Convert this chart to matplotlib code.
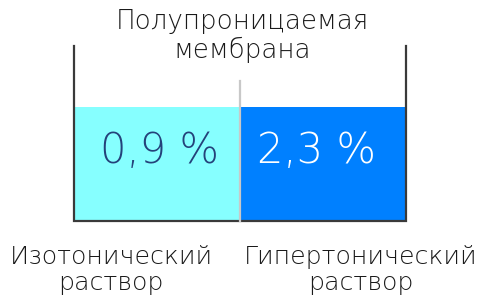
import matplotlib.pyplot as plt
from matplotlib.patches import Rectangle

# solutions on each side of the membrane
concentrations = ["0,9 %", "2,3 %"]
solution_names = ["Изотонический\nраствор", "Гипертонический\nраствор"]
fill_colors = ["#86FFFF", "#0080FF"]
text_colors = ["#24427A", "white"]
title = "Полупроницаемая\nмембрана"

fig = plt.figure(figsize=(4.79, 3.05), dpi=100)
ax = fig.add_axes([0, 0, 1, 1])
ax.set_xlim(0, 479)
ax.set_ylim(305, 0)
ax.axis('off')

left, mid, right = 74, 240, 406
top_wall, fill_top, bottom = 46, 107, 221

# two compartments
lefts = [left, mid]
widths = [mid - left, right - mid]
value_x = [160, 317]
label_x = [111, 361]
for i in range(len(concentrations)):
    ax.add_patch(Rectangle((lefts[i], fill_top), widths[i], bottom - fill_top,
                           facecolor=fill_colors[i], edgecolor='none'))
    ax.text(value_x[i], 150, concentrations[i], ha='center', va='center',
            fontsize=30, color=text_colors[i], fontweight=200)
    ax.text(label_x[i], 270, solution_names[i], ha='center',
            va='center', fontsize=18.2, color='#1a1a1a', linespacing=1.12,
            fontweight=200)

# container walls
ax.plot([left, left, right, right], [top_wall, bottom, bottom, top_wall],
        color='#3a3a3a', lw=1.6, solid_joinstyle='miter')
# membrane
ax.plot([mid, mid], [81, bottom], color='#c8c8c8', lw=1.6)

ax.text(242, 36, title, ha='center', va='center', fontsize=18.8,
        color='#1a1a1a', linespacing=1.14, fontweight=200)

fig.savefig('out.png', dpi=100)
